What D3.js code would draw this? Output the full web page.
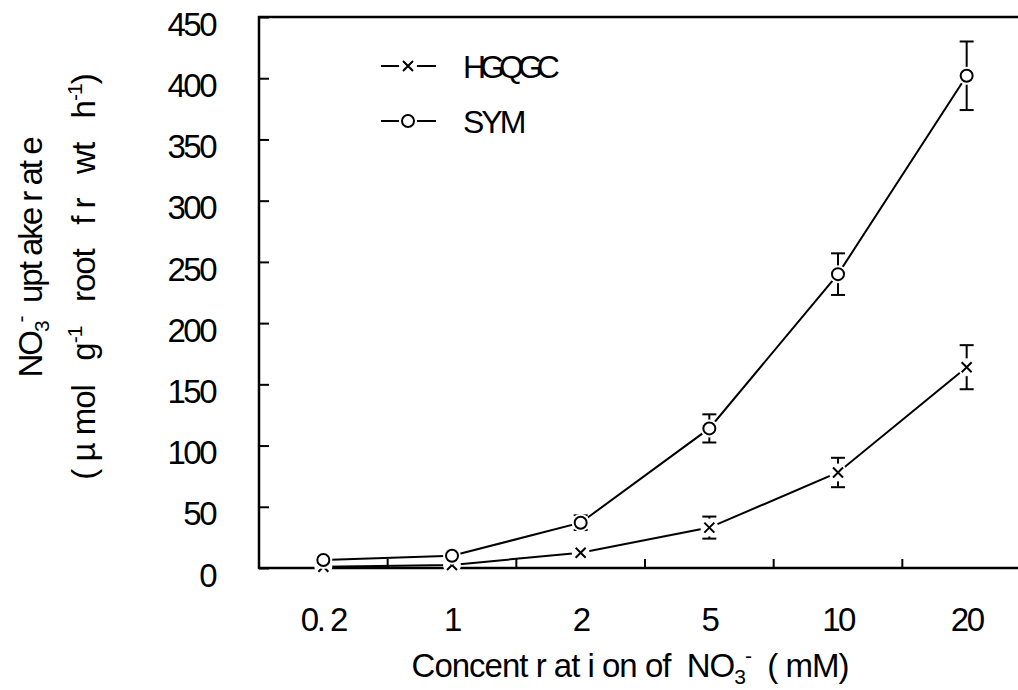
<!DOCTYPE html>
<html>
<head>
<meta charset="utf-8">
<script src="https://cdn.jsdelivr.net/npm/d3@7"></script>
<style>
    body { margin: 0; background: #fff; }
    text { font-family: "Liberation Sans", Arial, sans-serif; fill: #000; white-space: pre; }
</style>
</head>
<body>
<svg id="chart" width="1018" height="690"></svg>
<script>
const concentrations = ["0. 2", "1", "2", "5", "10", "20"];
const symValues = [6.5, 10, 37, 114, 240, 402];
const symErrors = [1, 1, 6, 11.5, 17, 28];
const hgqgcValues = [1, 2.5, 12.5, 33, 78, 164];
const hgqgcErrors = [0.5, 0.5, 1, 9, 12, 18];
const yTicks = [0, 50, 100, 150, 200, 250, 300, 350, 400, 450];

const svg = d3.select("#chart");
const plotLeft = 259, plotRight = 1031, plotTop = 17, plotBottom = 568;

const x = d3.scaleBand()
    .domain(concentrations)
    .range([plotLeft, plotRight])
    .paddingInner(0)
    .paddingOuter(0);

const y = d3.scaleLinear()
    .domain([0, 450])
    .range([plotBottom, plotTop]);

const cx = (d, i) => x(concentrations[i]) + x.bandwidth() / 2;

// frame
svg.append("rect")
    .attr("x", plotLeft).attr("y", plotTop)
    .attr("width", plotRight - plotLeft).attr("height", plotBottom - plotTop)
    .attr("fill", "none").attr("stroke", "#000").attr("stroke-width", 2.5);

// y axis, ticks inward
const yAxis = d3.axisLeft(y)
    .tickValues(yTicks)
    .tickSize(-10)
    .tickPadding(44);
const yg = svg.append("g")
    .attr("transform", `translate(${plotLeft},0)`)
    .call(yAxis);
yg.select(".domain").remove();
yg.selectAll("line").attr("stroke-width", 2);
yg.selectAll("text")
    .attr("dy", "0.55em")
    .style("font-size", "33px")
    .style("letter-spacing", "-2.5px")
    .style("font-family", "'Liberation Sans', Arial, sans-serif");

// x axis labels
const xAxis = d3.axisBottom(x).tickSize(0).tickPadding(40);
const xg = svg.append("g")
    .attr("transform", `translate(0,${plotBottom})`)
    .call(xAxis);
xg.select(".domain").remove();
xg.selectAll("text")
    .style("font-size", "33px")
    .style("letter-spacing", "-2.5px")
    .style("font-family", "'Liberation Sans', Arial, sans-serif");

// x ticks between categories, inward
svg.selectAll(".xtick")
    .data(concentrations.slice(0, -1))
    .enter().append("line")
    .attr("class", "xtick")
    .attr("x1", d => x(d) + x.bandwidth())
    .attr("x2", d => x(d) + x.bandwidth())
    .attr("y1", plotBottom)
    .attr("y2", plotBottom - 9)
    .attr("stroke", "#000").attr("stroke-width", 2);

const line = d3.line().x(cx).y(d => y(d));

function drawSeries(values, errors, marker) {
    svg.append("path")
        .datum(values)
        .attr("d", line)
        .attr("fill", "none")
        .attr("stroke", "#000")
        .attr("stroke-width", 2);

    const eb = svg.append("g").attr("stroke", "#000").attr("stroke-width", 2);
    values.forEach((v, i) => {
        const px = cx(v, i);
        eb.append("line").attr("x1", px).attr("x2", px)
            .attr("y1", y(v + errors[i])).attr("y2", y(v - errors[i]));
        [v + errors[i], v - errors[i]].forEach(e => {
            eb.append("line").attr("x1", px - 7).attr("x2", px + 7)
                .attr("y1", y(e)).attr("y2", y(e));
        });
    });

    const mg = svg.append("g");
    values.forEach((v, i) => {
        const px = cx(v, i), py = y(v);
        if (marker === "circle") {
            mg.append("circle").attr("cx", px).attr("cy", py).attr("r", 9)
                .attr("fill", "#fff");
            mg.append("circle").attr("cx", px).attr("cy", py).attr("r", 6)
                .attr("fill", "#fff").attr("stroke", "#000").attr("stroke-width", 2);
        } else {
            mg.append("circle").attr("cx", px).attr("cy", py).attr("r", 9)
                .attr("fill", "#fff");
            mg.append("path")
                .attr("d", `M${px - 5},${py - 5}L${px + 5},${py + 5}M${px - 5},${py + 5}L${px + 5},${py - 5}`)
                .attr("stroke", "#000").attr("stroke-width", 2);
        }
    });
}

drawSeries(hgqgcValues, hgqgcErrors, "x");
drawSeries(symValues, symErrors, "circle");

// legend
const legend = [
    {name: "HGQGC", marker: "x", y: 66, spacing: -6},
    {name: "SYM", marker: "circle", y: 121, spacing: -3}
];
legend.forEach(l => {
    const g = svg.append("g");
    g.append("line").attr("x1", 381).attr("x2", 436).attr("y1", l.y).attr("y2", l.y)
        .attr("stroke", "#000").attr("stroke-width", 2);
    g.append("circle").attr("cx", 408).attr("cy", l.y).attr("r", 9).attr("fill", "#fff");
    if (l.marker === "circle") {
        g.append("circle").attr("cx", 408).attr("cy", l.y).attr("r", 6)
            .attr("fill", "#fff").attr("stroke", "#000").attr("stroke-width", 2);
    } else {
        g.append("path")
            .attr("d", `M403,${l.y - 5}L413,${l.y + 5}M403,${l.y + 5}L413,${l.y - 5}`)
            .attr("stroke", "#000").attr("stroke-width", 2);
    }
    g.append("text").attr("x", 463).attr("y", l.y + 12)
        .style("font-size", "32px")
        .style("letter-spacing", l.spacing + "px")
        .text(l.name);
});

// x axis title
const xt = svg.append("text")
    .attr("x", 630).attr("y", 677)
    .attr("text-anchor", "middle")
    .style("font-size", "33px")
    .style("letter-spacing", "-1px");
xt.append("tspan").text("Concent r at i on of  NO");
xt.append("tspan").attr("dy", 7).style("font-size", "21px").text("3");
xt.append("tspan").attr("dy", -21).style("font-size", "21px").text("-");
xt.append("tspan").attr("dy", 14).text("  ( mM)");

// y axis title, two lines
const yt1 = svg.append("text")
    .attr("transform", "translate(42,258) rotate(-90)")
    .attr("text-anchor", "middle")
    .style("font-size", "33px")
    .style("letter-spacing", "-2px");
yt1.append("tspan").text("NO");
yt1.append("tspan").attr("dy", 7).style("font-size", "21px").text("3");
yt1.append("tspan").attr("dy", -21).style("font-size", "21px").text("-");
yt1.append("tspan").attr("dy", 14).text("  upt ake r at e");

const yt2 = svg.append("text")
    .attr("transform", "translate(95,277) rotate(-90)")
    .attr("text-anchor", "middle")
    .style("font-size", "33px")
    .style("letter-spacing", "-1px");
yt2.append("tspan").text("( µ mol   g");
yt2.append("tspan").attr("dy", -13).style("font-size", "21px").text("-1");
yt2.append("tspan").attr("dy", 13).text("   root   f r   wt   h");
yt2.append("tspan").attr("dy", -13).style("font-size", "21px").text("-1");
yt2.append("tspan").attr("dy", 13).text(")");
</script>
</body>
</html>
